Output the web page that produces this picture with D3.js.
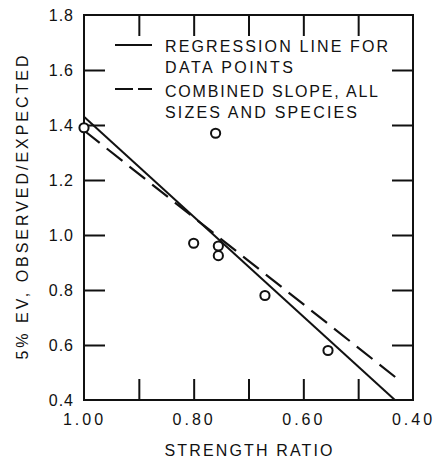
<!DOCTYPE html>
<html>
<head>
<meta charset="utf-8">
<script src="https://cdn.jsdelivr.net/npm/d3@7"></script>
<style>
  html, body { margin: 0; padding: 0; background: #fff; }
  svg { display: block; }
  text { font-family: "Liberation Sans", "DejaVu Sans", sans-serif; fill: #111; }
</style>
</head>
<body>
<svg id="chart" width="447" height="461"></svg>
<script>
// Observed points: strength ratio vs 5% EV observed/expected
const strengthRatio = [1.00, 0.76, 0.80, 0.755, 0.755, 0.67, 0.555];
const evRatio       = [1.39, 1.37, 0.97, 0.96, 0.925, 0.78, 0.58];

// Fitted lines, given by their end points
const regressionX = [1.00, 0.433];
const regressionY = [1.43, 0.40];
const combinedX   = [1.00, 0.427];
const combinedY   = [1.38, 0.475];

// Axis ticks
const xTicks = [0.9, 0.8, 0.7, 0.6, 0.5];
const xTickLabels = [1.00, 0.80, 0.60, 0.40];
const yTicks = [1.6, 1.4, 1.2, 1.0, 0.8, 0.6];
const yTickLabels = [1.8, 1.6, 1.4, 1.2, 1.0, 0.8, 0.6, 0.4];

const legendLabels = [
  ["REGRESSION LINE FOR", "DATA POINTS"],
  ["COMBINED SLOPE, ALL", "SIZES AND SPECIES"]
];

const svg = d3.select("#chart");
const plotLeft = 84, plotRight = 413, plotTop = 15, plotBottom = 400;
const x = d3.scaleLinear().domain([1.0, 0.4]).range([plotLeft, plotRight]);
const y = d3.scaleLinear().domain([0.4, 1.8]).range([plotBottom, plotTop]);
const ink = "#111";
const tickLen = 21;

// Frame
svg.append("rect")
  .attr("x", plotLeft).attr("y", plotTop)
  .attr("width", plotRight - plotLeft).attr("height", plotBottom - plotTop)
  .attr("fill", "none").attr("stroke", ink).attr("stroke-width", 2);

// Inward ticks on all four sides
function tickAxis(axis, tx, ty) {
  const g = svg.append("g").attr("transform", `translate(${tx},${ty})`).call(axis);
  g.select(".domain").remove();
  g.selectAll(".tick line").attr("stroke", ink).attr("stroke-width", 2);
  g.selectAll(".tick text").remove();
  return g;
}
tickAxis(d3.axisBottom(x).tickValues(xTicks).tickSize(-tickLen), 0, plotBottom);
tickAxis(d3.axisTop(x).tickValues(xTicks).tickSize(-tickLen), 0, plotTop);
tickAxis(d3.axisLeft(y).tickValues(yTicks).tickSize(-tickLen), plotLeft, 0);
tickAxis(d3.axisRight(y).tickValues(yTicks).tickSize(-tickLen), plotRight, 0);

// Tick labels
const xLab = svg.append("g").attr("transform", `translate(0,${plotBottom})`)
  .call(d3.axisBottom(x).tickValues(xTickLabels).tickSize(0).tickPadding(14)
    .tickFormat(d3.format(".2f")));
xLab.select(".domain").remove();
xLab.selectAll(".tick text")
  .attr("font-size", 16).attr("letter-spacing", 3)
  .attr("font-family", "Liberation Sans, sans-serif").attr("fill", ink);

const yLab = svg.append("g").attr("transform", `translate(${plotLeft},0)`)
  .call(d3.axisLeft(y).tickValues(yTickLabels).tickSize(0).tickPadding(10)
    .tickFormat(d3.format(".1f")));
yLab.select(".domain").remove();
yLab.selectAll(".tick text")
  .attr("font-size", 16).attr("letter-spacing", 1)
  .attr("font-family", "Liberation Sans, sans-serif").attr("fill", ink);

// Axis titles
svg.append("text")
  .attr("x", (plotLeft + plotRight) / 2).attr("y", 456)
  .attr("text-anchor", "middle").attr("font-size", 16)
  .attr("textLength", 168).attr("lengthAdjust", "spacing")
  .text("STRENGTH RATIO");

svg.append("text")
  .attr("transform", `translate(28,${(plotTop + plotBottom) / 2}) rotate(-90)`)
  .attr("text-anchor", "middle").attr("font-size", 16)
  .attr("textLength", 304).attr("lengthAdjust", "spacing")
  .text("5% EV, OBSERVED/EXPECTED");

// Lines
const line = d3.line().x(d => x(d[0])).y(d => y(d[1]));
svg.append("path")
  .attr("d", line(d3.zip(regressionX, regressionY)))
  .attr("fill", "none").attr("stroke", ink).attr("stroke-width", 2);
svg.append("path")
  .attr("d", line(d3.zip(combinedX, combinedY)))
  .attr("fill", "none").attr("stroke", ink).attr("stroke-width", 2.2)
  .attr("stroke-dasharray", "20,9");

// Data points
svg.append("g").selectAll("circle")
  .data(d3.zip(strengthRatio, evRatio))
  .join("circle")
  .attr("cx", d => x(d[0])).attr("cy", d => y(d[1]))
  .attr("r", 4.6)
  .attr("fill", "#fff").attr("stroke", ink).attr("stroke-width", 2);

// Legend
const legend = svg.append("g");
const legendRows = [
  { y: 45, dash: null, lines: legendLabels[0], base: 52, widths: [223, 128] },
  { y: 89, dash: "18,5", lines: legendLabels[1], base: 97, widths: [213, 192] }
];
legendRows.forEach(r => {
  legend.append("line")
    .attr("x1", 115).attr("x2", 152).attr("y1", r.y).attr("y2", r.y)
    .attr("stroke", ink).attr("stroke-width", 2)
    .attr("stroke-dasharray", r.dash);
  r.lines.forEach((t, i) => {
    legend.append("text")
      .attr("x", 165).attr("y", r.base + i * 21)
      .attr("font-size", 16)
      .attr("textLength", r.widths[i]).attr("lengthAdjust", "spacing")
      .text(t);
  });
});
</script>
</body>
</html>
